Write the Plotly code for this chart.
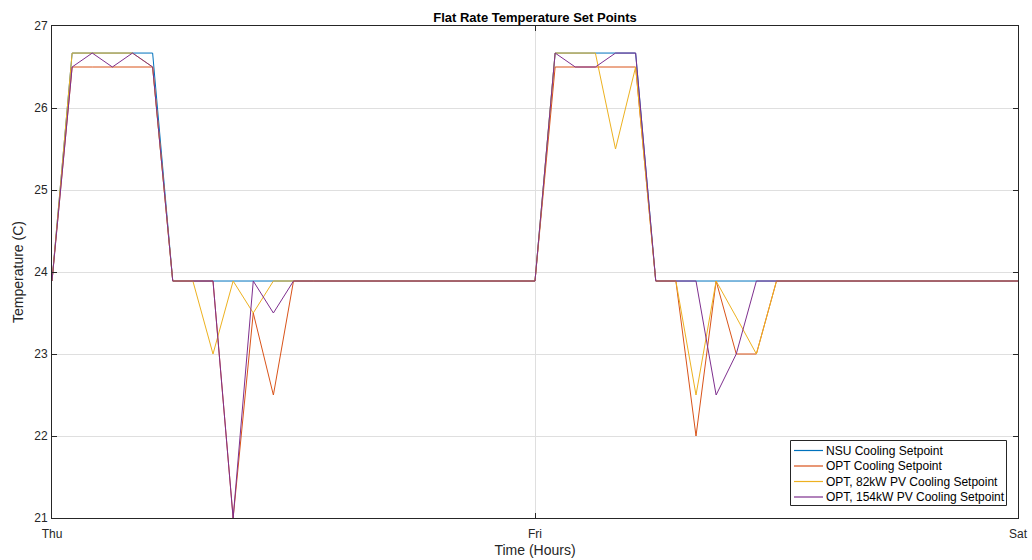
import plotly.graph_objects as go

hours = list(range(49))
tick_vals = [0, 24, 48]
tick_text = ["Thu", "Fri", "Sat"]

nsu = [23.89, 26.67, 26.67, 26.67, 26.67, 26.67,
       23.89, 23.89, 23.89, 23.89, 23.89, 23.89, 23.89, 23.89, 23.89, 23.89,
       23.89, 23.89, 23.89, 23.89, 23.89, 23.89, 23.89, 23.89, 23.89,
       26.67, 26.67, 26.67, 26.67, 26.67,
       23.89, 23.89, 23.89, 23.89, 23.89, 23.89, 23.89, 23.89, 23.89, 23.89,
       23.89, 23.89, 23.89, 23.89, 23.89, 23.89, 23.89, 23.89, 23.89]

opt = [23.89, 26.5, 26.5, 26.5, 26.5, 26.5,
       23.89, 23.89, 23.89, 21.0, 23.5, 22.5, 23.89, 23.89, 23.89, 23.89,
       23.89, 23.89, 23.89, 23.89, 23.89, 23.89, 23.89, 23.89, 23.89,
       26.5, 26.5, 26.5, 26.5, 26.5,
       23.89, 23.89, 22.0, 23.89, 23.0, 23.0, 23.89, 23.89, 23.89, 23.89,
       23.89, 23.89, 23.89, 23.89, 23.89, 23.89, 23.89, 23.89, 23.89]

pv82 = [23.89, 26.67, 26.67, 26.67, 26.67, 26.5,
        23.89, 23.89, 23.0, 23.89, 23.5, 23.89, 23.89, 23.89, 23.89, 23.89,
        23.89, 23.89, 23.89, 23.89, 23.89, 23.89, 23.89, 23.89, 23.89,
        26.67, 26.67, 26.67, 25.5, 26.5,
        23.89, 23.89, 22.5, 23.89, 23.45, 23.0, 23.89, 23.89, 23.89, 23.89,
        23.89, 23.89, 23.89, 23.89, 23.89, 23.89, 23.89, 23.89, 23.89]

pv154 = [23.89, 26.5, 26.67, 26.5, 26.67, 26.5,
         23.89, 23.89, 23.89, 21.0, 23.89, 23.5, 23.89, 23.89, 23.89, 23.89,
         23.89, 23.89, 23.89, 23.89, 23.89, 23.89, 23.89, 23.89, 23.89,
         26.67, 26.5, 26.5, 26.67, 26.67,
         23.89, 23.89, 23.89, 22.5, 23.0, 23.89, 23.89, 23.89, 23.89, 23.89,
         23.89, 23.89, 23.89, 23.89, 23.89, 23.89, 23.89, 23.89, 23.89]

names = ["NSU Cooling Setpoint", "OPT Cooling Setpoint",
         "OPT, 82kW PV Cooling Setpoint", "OPT, 154kW PV Cooling Setpoint"]
colors = ["#0072BD", "#D95319", "#EDB120", "#7E2F8E"]

W, H = 1032, 560
ML, MR, MT, MB = 52, 14, 26, 42
PW, PH = W - ML - MR, H - MT - MB


def px_x(x):
    return (x - ML) / PW


def px_y(y):
    return (H - MB - y) / PH


fig = go.Figure()
for ys, nm, c in zip([nsu, opt, pv82, pv154], names, colors):
    fig.add_trace(go.Scatter(x=hours, y=ys, mode="lines", name=nm,
                             line=dict(color=c, width=1), showlegend=False))

FONT = "Liberation Sans, Arial, Helvetica"
axis_common = dict(showline=True, linecolor="#262626", linewidth=1, mirror="ticks",
                   ticks="inside", ticklen=5, tickcolor="#262626", automargin=False,
                   showgrid=True, gridcolor="#DFDFDF", gridwidth=1, zeroline=False,
                   tickfont=dict(family=FONT, size=12, color="#262626"))

# custom compact legend (box, line samples, labels)
shapes = [dict(type="rect", xref="paper", yref="paper",
               x0=px_x(790.5), x1=px_x(1006.5), y0=px_y(505.5), y1=px_y(440.5),
               line=dict(color="#262626", width=1), fillcolor="white", layer="above")]
annotations = []
row_y = [450.5, 466, 481.5, 497]
for nm, c, ry in zip(names, colors, row_y):
    shapes.append(dict(type="line", xref="paper", yref="paper",
                       x0=px_x(794), x1=px_x(823), y0=px_y(ry), y1=px_y(ry),
                       line=dict(color=c, width=1.2), layer="above"))
    annotations.append(dict(text=nm, xref="paper", yref="paper", x=px_x(824), y=px_y(ry),
                            xanchor="left", yanchor="middle", showarrow=False,
                            font=dict(family=FONT, size=12, color="black")))

fig.update_layout(
    width=W, height=H,
    margin=dict(l=ML, r=MR, t=MT, b=MB),
    paper_bgcolor="white", plot_bgcolor="white",
    font=dict(family=FONT, size=12, color="#262626"),
    title=dict(text="<b>Flat Rate Temperature Set Points</b>", x=(ML + W - MR) / 2 / W,
               xanchor="center", y=1 - 17 / H, yanchor="middle",
               font=dict(size=13, color="black")),
    xaxis=dict(range=[0, 48], tickvals=tick_vals, ticktext=tick_text, ticklabelstandoff=5,
               title=dict(text="Time (Hours)", standoff=4, font=dict(size=14)), **axis_common),
    yaxis=dict(range=[21, 27], dtick=1, ticklabelstandoff=1,
               title=dict(text="Temperature (C)", standoff=7, font=dict(size=14)), **axis_common),
    shapes=shapes,
    annotations=annotations,
    showlegend=False,
)

fig.write_html("out.html")
